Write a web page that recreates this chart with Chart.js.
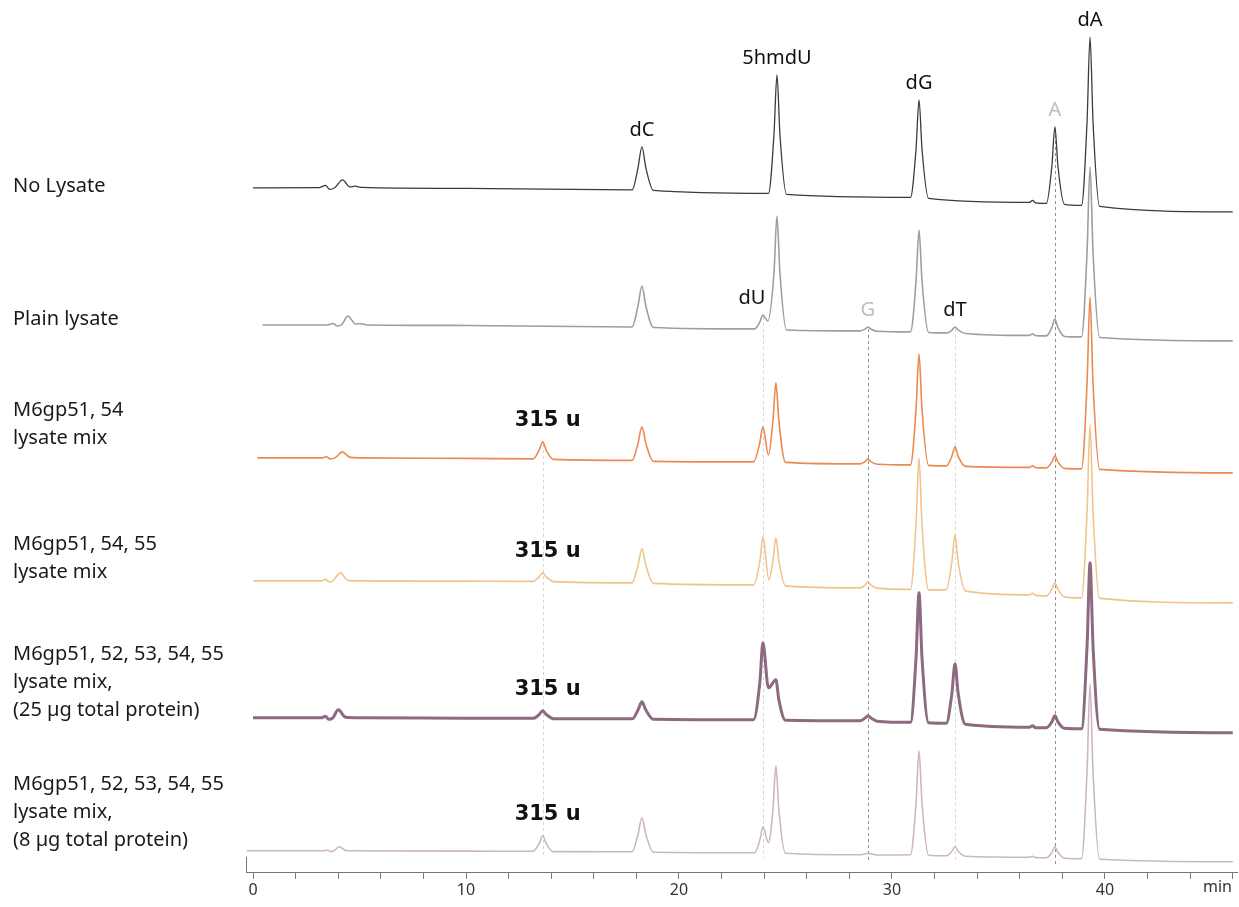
<!DOCTYPE html>
<html>
<head>
<meta charset="utf-8">
<title>HPLC traces</title>
<script src="https://cdn.jsdelivr.net/npm/chart.js@4/dist/chart.umd.min.js"></script>
<style>
    html, body { margin: 0; padding: 0; background: #fff; }
    canvas { display: block; }
</style>
</head>
<body>
<canvas id="hplcChart" width="1239" height="907"></canvas>
<script>
// Retention time (min) vs. signal above each trace's starting baseline (mAU)
const noLysate = [
    [0, 0], [3.1, 0.3], [3.4, 2.5], [3.6, -1.5], [3.85, 0.5], [4.2, 8], [4.55, 1], [4.8, 1.8], [5.1, 0.5], [10, -0.5],
    [17.8, -2], [18.07, 19.5], [18.26, 41], [18.45, 19.5], [18.8, -2.5],
    [24.2, -5.5], [24.46, 53.5], [24.6, 113], [24.74, 53.5], [25.05, -6.5],
    [30.87, -9.5], [31.13, 39], [31.27, 88], [31.41, 39], [31.72, -10.5],
    [36.45, -14.5], [36.6, -12.5], [36.75, -15],
    [37.25, -15.5], [37.51, 22.5], [37.65, 61], [37.79, 22.5], [38.1, -16.5],
    [38.9, -17.5], [39.16, 66.5], [39.3, 151], [39.44, 66.5], [39.75, -18.5],
    [46, -24]
];
const plainLysate = [
    [0.45, 0], [3.5, 0], [3.75, 1.5], [3.95, -1], [4.15, 0], [4.46, 9], [4.8, 1], [5.05, 1.2], [5.35, 0], [10, -0.5],
    [17.8, -2], [18.07, 18.5], [18.26, 39], [18.45, 18.5], [18.8, -2.5],
    [23.55, -4], [23.8, 3], [23.94, 10], [24.17, 4], [24.46, 52], [24.6, 109], [24.74, 52], [25.05, -5],
    [28.5, -6], [28.75, -4], [28.87, -2], [29.0, -4], [29.3, -6.3],
    [30.87, -7], [31.13, 44], [31.27, 95], [31.41, 44], [31.72, -7.5],
    [32.6, -8], [32.83, -5], [32.96, -2], [33.1, -5], [33.45, -8.5],
    [36.45, -10.5], [36.6, -9], [36.75, -10.8],
    [37.25, -11], [37.51, -2.5], [37.65, 6], [37.79, -2.5], [38.1, -11.5],
    [38.9, -12], [39.16, 73], [39.3, 158], [39.44, 73], [39.75, -12.5],
    [46, -16]
];
const mix5154 = [
    [0.2, 0], [3.25, 0], [3.45, 1.2], [3.62, -1], [3.85, 0], [4.2, 6], [4.55, 0.5], [5, 0], [10, -0.5],
    [13.15, -1], [13.43, 7.5], [13.6, 16], [13.77, 7.5], [14.1, -1.5],
    [17.8, -2.5], [18.07, 14], [18.26, 31], [18.45, 14], [18.8, -3.5],
    [23.5, -4], [23.78, 13.5], [23.94, 31], [24.2, 3], [24.41, 37], [24.55, 75], [24.69, 37], [25.0, -4.5],
    [28.5, -6], [28.75, -3.5], [28.87, -1], [29.0, -3.5], [29.3, -6.3],
    [30.87, -7], [31.13, 48.5], [31.27, 104], [31.41, 48.5], [31.72, -7.5],
    [32.55, -8], [32.81, 1.5], [32.96, 11], [33.11, 1.5], [33.45, -8.5],
    [36.45, -9.5], [36.6, -8], [36.75, -9.8],
    [37.25, -10], [37.51, -4], [37.65, 2], [37.79, -4], [38.1, -10.5],
    [38.9, -11], [39.16, 75], [39.3, 161], [39.44, 75], [39.75, -11.5],
    [46, -15]
];
const mix515455 = [
    [0, 0], [3.2, 0], [3.4, 1.5], [3.57, -1], [3.75, 0], [4.1, 8], [4.45, 0.5], [5, 0], [10, -0.3],
    [13.15, -0.5], [13.43, 3.8], [13.6, 8], [13.77, 3.8], [14.1, -0.8],
    [17.8, -2], [18.07, 15], [18.26, 32], [18.45, 15], [18.8, -2.5],
    [23.5, -4], [23.8, 20], [23.94, 44], [24.22, 1], [24.41, 20], [24.55, 43], [24.69, 20], [25.0, -5],
    [28.5, -7], [28.75, -4], [28.87, -1], [29.0, -4], [29.3, -7.3],
    [30.87, -8.5], [31.13, 57], [31.27, 123], [31.41, 57], [31.72, -9],
    [32.55, -9], [32.81, 18.5], [32.96, 46], [33.11, 18.5], [33.45, -10],
    [36.45, -14], [36.6, -12.5], [36.75, -14.5],
    [37.25, -15], [37.51, -8.5], [37.65, -2], [37.79, -8.5], [38.1, -16],
    [38.9, -17], [39.16, 69.5], [39.3, 156], [39.44, 69.5], [39.75, -17.5],
    [46, -22]
];
const mixAll25 = [
    [0, 0], [3.2, 0], [3.4, 1.5], [3.55, -1.5], [3.75, 0], [4.0, 8], [4.35, 0.5], [5, 0], [10, -0.3],
    [13.15, -0.5], [13.43, 3.3], [13.6, 7], [13.77, 3.3], [14.1, -0.8],
    [17.8, -1], [18.07, 7.5], [18.26, 16], [18.45, 7.5], [18.8, -1.5],
    [23.5, -2], [23.8, 36.5], [23.94, 75], [24.2, 30], [24.55, 38], [24.69, 18], [25.0, -2.5],
    [28.5, -3], [28.75, 0], [28.87, 2], [29.0, 0], [29.3, -3.3],
    [30.87, -4.5], [31.13, 60], [31.27, 125], [31.41, 60], [31.72, -5],
    [32.55, -5.5], [32.81, 24], [32.96, 54], [33.11, 24], [33.45, -6.5],
    [36.45, -9.5], [36.6, -8], [36.75, -9.8],
    [37.25, -10], [37.51, -4], [37.65, 2], [37.79, -4], [38.1, -10.5],
    [38.9, -11], [39.16, 72], [39.3, 155], [39.44, 72], [39.75, -11.5],
    [46, -15]
];
const mixAll8 = [
    [-0.3, 0], [3.3, 0], [3.5, 0.8], [3.65, -1], [3.8, 0], [4.05, 4], [4.4, 0], [10, -0.3],
    [13.15, -0.5], [13.43, 7], [13.6, 15], [13.77, 7], [14.1, -0.8],
    [17.8, -1], [18.07, 16], [18.26, 33], [18.45, 16], [18.8, -1.5],
    [23.55, -2], [23.8, 11], [23.94, 24], [24.2, 8], [24.41, 41], [24.55, 85], [24.69, 41], [25.0, -2.5],
    [28.5, -4], [28.75, -3], [28.87, -2.5], [29.0, -3], [29.3, -4.2],
    [30.87, -4], [31.13, 48], [31.27, 100], [31.41, 48], [31.72, -4.5],
    [32.55, -5], [32.81, -0.5], [32.96, 4], [33.11, -0.5], [33.45, -5.5],
    [36.45, -6.5], [36.6, -5.5], [36.75, -6.8],
    [37.25, -7], [37.51, -1.5], [37.65, 4], [37.79, -1.5], [38.1, -7.5],
    [38.9, -8], [39.16, 79.5], [39.3, 167], [39.44, 79.5], [39.75, -8.5],
    [46, -11]
];

const traces = [noLysate, plainLysate, mix5154, mix515455, mixAll25, mixAll8];
const traceNames = [
    ['No Lysate'],
    ['Plain lysate'],
    ['M6gp51, 54', 'lysate mix'],
    ['M6gp51, 54, 55', 'lysate mix'],
    ['M6gp51, 52, 53, 54, 55', 'lysate mix,', '(25 µg total protein)'],
    ['M6gp51, 52, 53, 54, 55', 'lysate mix,', '(8 µg total protein)']
];
// vertical stacking offset of each trace (mAU)
const traceOffsets = [685, 548, 415, 292, 155, 22];
const traceColors = ['#3b3b3b', '#9e9e9e', '#ea8a52', '#f1c48d', '#8c6a80', '#ccb6c2'];
const traceWidths = [1.3, 1.6, 1.6, 1.6, 3, 1.6];

// peak labels: text, retention time, trace it sits on
const peakLabels = [
    ['dC', 18.26, 0], ['5hmdU', 24.6, 0], ['dG', 31.27, 0], ['A', 37.65, 0], ['dA', 39.3, 0],
    ['dU', 23.94, 1], ['G', 28.87, 1], ['dT', 32.96, 1],
    ['315 u', 13.6, 2], ['315 u', 13.6, 3], ['315 u', 13.6, 4], ['315 u', 13.6, 5]
];
const greyLabels = ['A', 'G'];

// dashed guide lines: retention time, first trace, dark
const guideTimes = [13.6, 23.94, 28.87, 32.96, 37.65];
const guideFrom = [2, 1, 1, 1, 0];
const guideDark = [false, false, true, false, true];

const xTickStep = 2;

function valueAt(trace, t, win) {
    let best = null;
    trace.forEach(p => {
        if (Math.abs(p[0] - t) <= win && (best === null || p[1] > best)) best = p[1];
    });
    return best;
}

function baseAt(trace, t) {
    // lowest point close to t (local baseline)
    let low = null;
    trace.forEach(p => {
        if (Math.abs(p[0] - t) <= 0.6 && (low === null || p[1] < low)) low = p[1];
    });
    return low;
}

const overlayPlugin = {
    id: 'overlay',
    beforeDatasetsDraw(chart) {
        const { ctx, scales: { x, y } } = chart;
        ctx.save();
        ctx.lineWidth = 1;
        ctx.setLineDash([3, 3]);
        guideTimes.forEach((t, i) => {
            const from = guideFrom[i];
            const top = y.getPixelForValue(valueAt(traces[from], t, 0.05) + traceOffsets[from]);
            const bottom = y.getPixelForValue(baseAt(mixAll8, t) + traceOffsets[5]) + 6;
            const px = Math.round(x.getPixelForValue(t)) + 0.5;
            ctx.strokeStyle = guideDark[i] ? '#8f8f8f' : '#d4d4d4';
            ctx.beginPath();
            ctx.moveTo(px, top + 2);
            ctx.lineTo(px, bottom);
            ctx.stroke();
        });
        ctx.restore();
    },
    afterDraw(chart) {
        const { ctx, chartArea, scales: { x, y } } = chart;
        ctx.save();

        // short left stub of the frame
        ctx.strokeStyle = '#777';
        ctx.lineWidth = 1;
        ctx.beginPath();
        ctx.moveTo(chartArea.left + 0.5, chartArea.bottom - 16);
        ctx.lineTo(chartArea.left + 0.5, chartArea.bottom);
        ctx.stroke();

        // axis unit
        ctx.fillStyle = '#333';
        ctx.font = '16px "Noto Sans"';
        ctx.textAlign = 'right';
        ctx.textBaseline = 'middle';
        ctx.fillText('min', chartArea.right - 5, chartArea.bottom + 15);

        // peak names
        ctx.textAlign = 'center';
        peakLabels.forEach(([text, t, tr]) => {
            const top = y.getPixelForValue(valueAt(traces[tr], t, 0.05) + traceOffsets[tr]);
            const bold = text === '315 u';
            ctx.font = bold ? 'bold 21px "DejaVu Sans"' : '20px "Noto Sans"';
            ctx.fillStyle = greyLabels.includes(text) ? '#bdbdbd' : '#111';
            let px = x.getPixelForValue(t);
            if (text === 'dU') px -= 11;
            if (bold) px += 5;
            ctx.fillText(text, px, top - (bold ? 21 : 17));
        });

        // sample names on the left
        ctx.textAlign = 'left';
        ctx.fillStyle = '#1a1a1a';
        ctx.font = '20px "Noto Sans"';
        const nameTops = [186, 319, 410, 544, 654, 784];
        traceNames.forEach((lines, i) => {
            lines.forEach((line, j) => {
                ctx.fillText(line, 13, nameTops[i] + j * 28);
            });
        });
        ctx.restore();
    }
};

document.addEventListener('DOMContentLoaded', () => {
    const ctx = document.getElementById('hplcChart').getContext('2d');
    new Chart(ctx, {
        type: 'line',
        data: {
            datasets: traces.map((trace, i) => ({
                label: traceNames[i].join(' '),
                data: trace.map(p => ({ x: p[0], y: p[1] + traceOffsets[i] })),
                borderColor: traceColors[i],
                borderWidth: traceWidths[i],
                pointRadius: 0,
                fill: false,
                cubicInterpolationMode: 'monotone',
                borderJoinStyle: 'round',
                order: 10 - i
            }))
        },
        options: {
            responsive: false,
            animation: false,
            events: [],
            layout: {
                padding: { left: 246, right: 2, top: 0, bottom: 5 }
            },
            plugins: {
                legend: { display: false },
                tooltip: { enabled: false }
            },
            scales: {
                x: {
                    type: 'linear',
                    min: -0.33,
                    max: 46.2,
                    border: { color: '#777', width: 1 },
                    grid: {
                        drawOnChartArea: false,
                        drawTicks: true,
                        tickLength: 6,
                        color: '#777'
                    },
                    ticks: {
                        stepSize: xTickStep,
                        includeBounds: false,
                        autoSkip: false,
                        maxRotation: 0,
                        padding: 2,
                        color: '#333',
                        font: { family: 'Noto Sans', size: 16 },
                        callback: value => (Math.round(value) % 10 === 0 && value < 45 ? value : '')
                    }
                },
                y: {
                    display: false,
                    min: 0,
                    max: 873
                }
            }
        },
        plugins: [overlayPlugin]
    });
});
</script>
</body>
</html>
